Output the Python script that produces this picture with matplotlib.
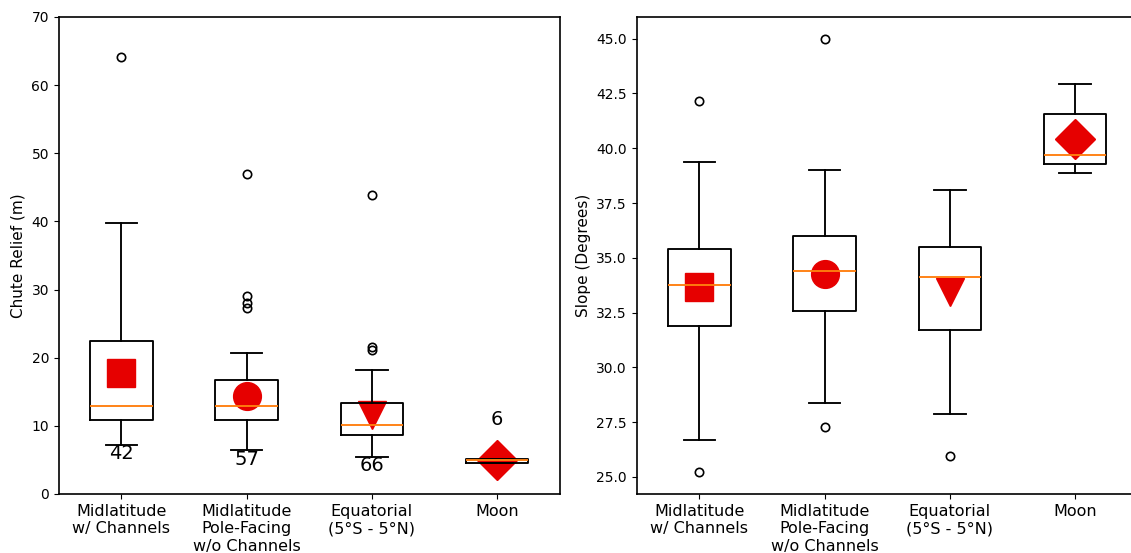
import matplotlib
matplotlib.use("Agg")
import matplotlib.pyplot as plt

# groups along the x axis
categories = ["Midlatitude\nw/ Channels",
              "Midlatitude\nPole-Facing\nw/o Channels",
              "Equatorial\n(5°S - 5°N)",
              "Moon"]
counts = [42, 57, 66, 6]
mean_markers = ["s", "o", "v", "D"]

# chute relief (m): box stats
relief_whislo = [7.24, 6.46, 5.48, 4.60]
relief_q1 = [10.86, 10.91, 8.69, 4.60]
relief_med = [12.87, 12.87, 10.08, 4.95]
relief_q3 = [22.49, 16.80, 13.39, 5.07]
relief_whishi = [39.81, 20.68, 18.15, 5.07]
relief_fliers = [[64.17], [46.90, 29.0, 28.1, 27.25], [43.9, 21.5, 21.2], []]
relief_mean = [17.7, 14.4, 11.6, 4.96]

# slope (degrees)
slope_whislo = [26.69, 28.39, 27.86, 38.89]
slope_q1 = [31.89, 32.55, 31.69, 39.27]
slope_med = [33.77, 34.38, 34.11, 39.71]
slope_q3 = [35.38, 35.99, 35.51, 41.57]
slope_whishi = [39.38, 39.00, 38.10, 42.92]
slope_fliers = [[42.15, 25.21], [45.0, 27.30], [25.97], []]
slope_mean = [33.66, 34.24, 33.46, 40.41]

RED = "#e60000"
LW = 1.35


def make_stats(lo, q1, med, q3, hi, fliers):
    stats = []
    for i in range(len(lo)):
        stats.append(dict(whislo=lo[i], q1=q1[i], med=med[i], q3=q3[i],
                          whishi=hi[i], fliers=fliers[i]))
    return stats


def draw_panel(ax, stats, means):
    pos = list(range(1, len(stats) + 1))
    # means first so the median lines end up on top
    for p, m, mk in zip(pos, means, mean_markers):
        ax.plot(p, m, marker=mk, color=RED, markersize=20, linestyle="none", zorder=1.5)
    ax.bxp(stats, positions=pos, widths=0.5,
           boxprops=dict(linewidth=LW), whiskerprops=dict(linewidth=LW),
           capprops=dict(linewidth=LW), medianprops=dict(linewidth=LW, color="C1"),
           flierprops=dict(markeredgewidth=1.2))
    ax.set_xticks(pos)
    ax.set_xticklabels(categories, fontsize=11.5)
    ax.tick_params(axis="y", labelsize=10)
    for sp in ax.spines.values():
        sp.set_linewidth(1.2)


fig = plt.figure(figsize=(11.31, 5.53), dpi=100)
ax1 = fig.add_axes([0.052, 0.1067, 0.4429, 0.8626])
ax2 = fig.add_axes([0.563, 0.1067, 0.4430, 0.8626])

draw_panel(ax1, make_stats(relief_whislo, relief_q1, relief_med, relief_q3,
                           relief_whishi, relief_fliers), relief_mean)
ax1.set_ylim(0, 70)
ax1.set_ylabel("Chute Relief (m)", fontsize=11)

# sample sizes under the whiskers (moon one goes above)
for i, n in enumerate(counts):
    if i < 3:
        ax1.text(i + 1, relief_whislo[i] - 1.35, str(n), ha="center", va="center", fontsize=14)
    else:
        ax1.text(i + 1, relief_q3[i] + 5.8, str(n), ha="center", va="center", fontsize=14)

draw_panel(ax2, make_stats(slope_whislo, slope_q1, slope_med, slope_q3,
                           slope_whishi, slope_fliers), slope_mean)
ax2.set_ylabel("Slope (Degrees)", fontsize=11)

plt.savefig("out.png", dpi=100)
plt.close()
